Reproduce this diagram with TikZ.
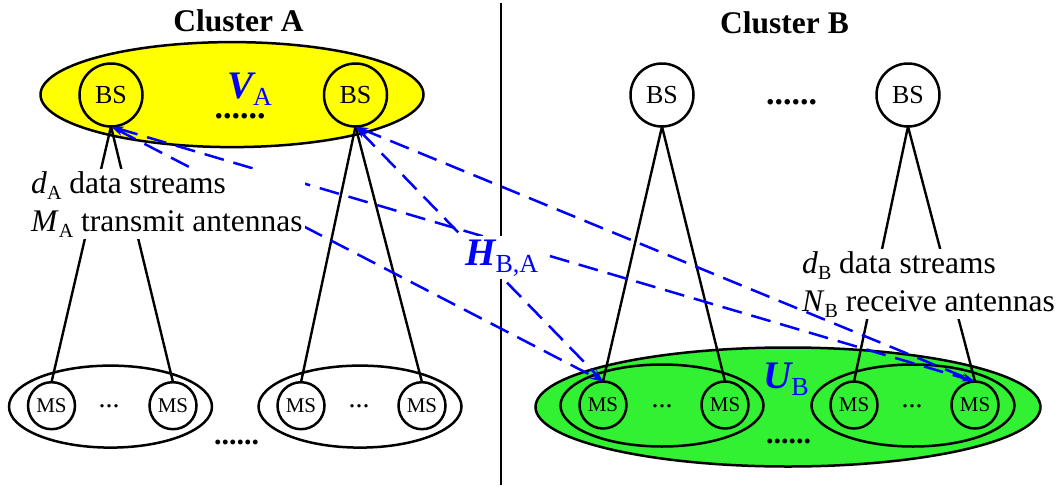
\documentclass[tikz,border=0pt]{standalone}
\usepackage{fontspec}
\setmainfont{Liberation Serif}
\usetikzlibrary{shapes.geometric,arrows.meta}
\definecolor{ylw}{RGB}{255,255,0}
\definecolor{grn}{RGB}{50,240,50}
\definecolor{chblue}{RGB}{0,0,255}
\newcommand{\lsub}[1]{\raisebox{-6pt}{\fontsize{20}{20}\selectfont #1}}
\newcommand{\bsub}[1]{\raisebox{-7pt}{\fontsize{26}{26}\selectfont #1}}
\newcommand{\bsym}[1]{{\fontsize{39}{39}\selectfont\bfseries\itshape #1}}
\begin{document}
\begin{tikzpicture}[x=1pt,y=-1pt,
  bs/.style={circle,draw,line width=2.5pt,minimum size=63pt,inner sep=0pt,outer sep=0pt,font=\fontsize{26}{26}\selectfont},
  ms/.style={circle,draw,line width=2.5pt,minimum size=47pt,inner sep=0pt,outer sep=0pt,font=\fontsize{21}{21}\selectfont},
  grp/.style={ellipse,draw,line width=2.5pt,minimum width=203pt,minimum height=82pt,inner sep=0pt,outer sep=0pt},
  big/.style={ellipse,draw,line width=2.5pt,inner sep=0pt,outer sep=0pt},
  conn/.style={line width=2.4pt},
  chan/.style={chblue,line width=2.5pt,dash pattern=on 20pt off 10pt,
    {Stealth[length=13pt,width=7pt]}-{Stealth[length=13pt,width=7pt]}},
  title/.style={inner sep=0pt,font=\fontsize{31.5}{31.5}\selectfont\bfseries},
  dots/.style={inner sep=0pt,font=\fontsize{34}{34}\selectfont\bfseries},
  ldots/.style={inner sep=0pt,font=\fontsize{30}{30}\selectfont\bfseries},
  sdots/.style={inner sep=0pt,font=\fontsize{28}{28}\selectfont},
  info/.style={fill=white,inner sep=2pt,align=left,font=\fontsize{31.5}{38}\selectfont}
]
\useasboundingbox (0,0) rectangle (1058,485);

% cluster backgrounds
\node[big,fill=ylw,minimum width=383pt,minimum height=105pt] (VA) at (232,94.6) {};
\node[big,fill=grn,minimum width=505pt,minimum height=119pt] (UB) at (788,407) {};

% titles
\node[title,anchor=base] (tA) at (238.5,31) {Cluster A};
\node[title,anchor=base] (tB) at (784.5,33) {Cluster B};

% divider
\coordinate (d1) at (501,3);
\coordinate (d2) at (501,485);
\draw[line width=2.5pt] (d1) -- (d2);

% base stations
\node[bs] (bsA1) at (111,95) {BS};
\node[bs] (bsA2) at (355.5,95) {BS};
\node[bs] (bsB1) at (662,95) {BS};
\node[bs] (bsB2) at (908,95) {BS};

% group ellipses
\node[grp] (gA1) at (110.5,406.6) {};
\node[grp] (gA2) at (360,406.6) {};
\node[grp] (gB1) at (662,405.5) {};
\node[grp] (gB2) at (913,405.5) {};

% mobile stations
\node[ms] (msA1) at (51.5,405.7) {MS};
\node[ms] (msA2) at (173,405.7) {MS};
\node[ms] (msA3) at (301,405.7) {MS};
\node[ms] (msA4) at (422,405.7) {MS};
\node[ms] (msB1) at (603,405) {MS};
\node[ms] (msB2) at (725,405) {MS};
\node[ms] (msB3) at (854,405) {MS};
\node[ms] (msB4) at (975,405) {MS};

% dots
\node[dots,anchor=base] (dA) at (240,118) {......};
\node[dots,anchor=base] (dB) at (791.5,104) {......};
\node[sdots,anchor=base] (sA1) at (109,407) {...};
\node[sdots,anchor=base] (sA2) at (359,407) {...};
\node[sdots,anchor=base] (sB1) at (662,407) {...};
\node[sdots,anchor=base] (sB2) at (912,407) {...};
\node[ldots,anchor=base] (bA) at (236.5,444) {......};
\node[ldots,anchor=base] (bB) at (788.5,443) {......};

% set labels
\node[inner sep=0pt,anchor=base west,text=chblue] (lV) at (227,98) {\bsym{V}\bsub{A}};
\node[inner sep=0pt,anchor=base west,text=chblue] (lU) at (763,388.6) {\bsym{U}\bsub{B}};

% links
\draw[conn] (bsA1.south) -- (msA1.north);
\draw[conn] (bsA1.south) -- (msA2.north);
\draw[conn] (bsA2.south) -- (msA3.north);
\draw[conn] (bsA2.south) -- (msA4.north);
\draw[conn] (bsB1.south) -- (msB1.north);
\draw[conn] (bsB1.south) -- (msB2.north);
\draw[conn] (bsB2.south) -- (msB3.north);
\draw[conn] (bsB2.south) -- (msB4.north);

% receiver info
\node[info,anchor=north west] (infoB) at (800,249) {\textit{d}\lsub{B} data streams\\\textit{N}\lsub{B} receive antennas};

% interference channels
\draw[chan] (bsA1.south) -- (msB1.north);
\draw[chan] (bsA1.south) -- (msB4.north);
\draw[chan] (bsA2.south) -- (msB1.north);
\draw[chan] (bsA2.south) -- (msB4.north);

% transmitter info
\node[info,anchor=north west] (infoA) at (29,169) {\textit{d}\lsub{A} data streams\\\textit{M}\lsub{A} transmit antennas};

% channel label
\node[fill=white,inner sep=3pt,anchor=base west,text=chblue] (lH) at (462,265) {\bsym{H}\bsub{B,A}};
\end{tikzpicture}
\end{document}
